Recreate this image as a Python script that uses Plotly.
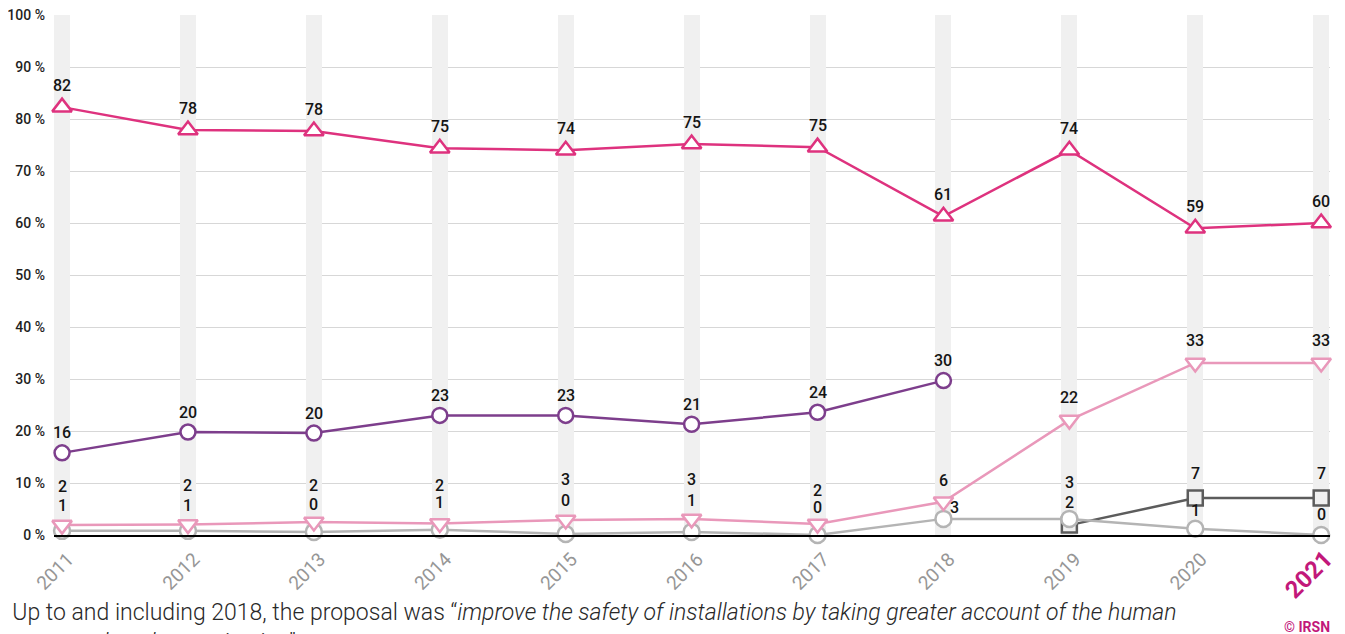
import plotly.graph_objects as go

# colors
magenta_color = 'rgba(222,50,126,1)'
purple_color = 'rgba(125,62,140,1)'
pink_color = 'rgba(233,152,186,1)'
grey_color = 'rgba(180,180,180,1)'
dark_color = 'rgba(92,92,92,1)'
band_color = 'rgba(240,240,240,1)'
grid_color = 'rgba(215,215,215,1)'
label_color = 'rgba(20,20,20,1)'
irsn_color = 'rgba(194,24,122,1)'
font_family = 'Roboto, Arial, sans-serif'

# data
years = [2011, 2012, 2013, 2014, 2015, 2016, 2017, 2018, 2019, 2020, 2021]
year_labels = ['2011', '2012', '2013', '2014', '2015', '2016', '2017', '2018', '2019', '2020',
               "<b><span style='color:#c2187a;font-size:24px'>2021</span></b>"]

magenta_values = [82.3, 77.9, 77.7, 74.4, 74.0, 75.2, 74.6, 61.3, 74.0, 59.0, 60.0]
magenta_labels = ['82', '78', '78', '75', '74', '75', '75', '61', '74', '59', '60']

purple_years = [2011, 2012, 2013, 2014, 2015, 2016, 2017, 2018]
purple_values = [15.8, 19.8, 19.6, 23.0, 23.0, 21.3, 23.6, 29.7]
purple_labels = ['16', '20', '20', '23', '23', '21', '24', '30']

pink_values = [1.9, 2.0, 2.5, 2.2, 2.9, 3.1, 2.1, 6.4, 22.1, 33.1, 33.1]
pink_labels = ['2', '2', '2', '2', '3', '3', '2', '6', '22', '33', '33']

grey_values = [0.8, 0.8, 0.6, 1.0, 0.2, 0.6, 0.0, 3.1, 3.1, 1.2, 0.0]
grey_labels = ['1', '1', '0', '1', '0', '1', '0', '3', '3', '1', '0']

dark_years = [2019, 2020, 2021]
dark_values = [1.9, 7.1, 7.1]
dark_labels = ['2', '7', '7']

y_ticks = [0, 10, 20, 30, 40, 50, 60, 70, 80, 90, 100]
y_tick_labels = ['0 %', '10 %', '20 %', '30 %', '40 %', '50 %', '60 %', '70 %', '80 %', '90 %', '100 %']

# label offsets (pixels above the marker), so the low labels stack
magenta_shift = [22] * 11
purple_shift = [20] * 8
pink_shift = [39, 39, 37, 38, 40, 39, 34, 21, 23, 22, 22]
grey_shift = [25, 25, 27, 27, 33, 31, 28, 11, 36, 18, 21]
grey_xshift = [0, 0, 0, 0, 0, 0, 0, 11, 0, 0, 0]
dark_shift = [23, 25, 25]

fig = go.Figure()

# grey vertical bands behind each year
fig.add_trace(go.Bar(
    x=years,
    y=[y_ticks[-1]] * len(years),
    width=0.127,
    marker=dict(color=band_color, line=dict(width=0)),
    hoverinfo='skip',
    showlegend=False,
))


def add_series(x, y, color, symbol, size, fill='white'):
    fig.add_trace(go.Scatter(
        x=x, y=y,
        mode='lines+markers',
        line=dict(color=color, width=2.5),
        marker=dict(symbol=symbol, size=size, color=fill, line=dict(color=color, width=2.5)),
        cliponaxis=False,
        showlegend=False,
    ))


add_series(dark_years, dark_values, dark_color, 'square', 15, 'rgba(240,240,240,1)')
add_series(years, grey_values, grey_color, 'circle', 16)
add_series(years, pink_values, pink_color, 'triangle-down', 17)
add_series(purple_years, purple_values, purple_color, 'circle', 15)
add_series(years, magenta_values, magenta_color, 'triangle-up', 17)


def add_labels(x, y, labels, shifts, xshifts=None):
    for i, (xv, yv, t) in enumerate(zip(x, y, labels)):
        fig.add_annotation(
            x=xv, y=yv, text=t, showarrow=False,
            xref='x', yref='y',
            yshift=shifts[i],
            xshift=xshifts[i] if xshifts else 0,
            font=dict(family=font_family, size=16, color=label_color, weight=500),
        )


add_labels(years, magenta_values, magenta_labels, magenta_shift)
add_labels(purple_years, purple_values, purple_labels, purple_shift)
add_labels(years, pink_values, pink_labels, pink_shift)
add_labels(years, grey_values, grey_labels, grey_shift, grey_xshift)
add_labels(dark_years, dark_values, dark_labels, dark_shift)

# footnote
fig.add_annotation(
    xref='paper', yref='paper', x=0, y=-0.12, xshift=-59,
    xanchor='left', yanchor='top', align='left', showarrow=False,
    text='* Up to and including 2018, the proposal was \u201c<i>improve the safety of installations by taking greater account of the human'
         '<br>factors and work organisation</i>\u201d',
    font=dict(family=font_family, size=23, color='rgba(40,40,40,1)', weight=300),
)
fig.add_annotation(
    xref='paper', yref='paper', x=1, y=-0.158, xshift=2,
    xanchor='right', yanchor='top', showarrow=False,
    text='<b>\u00a9 IRSN</b>',
    font=dict(family=font_family, size=14, color=irsn_color),
)

fig.update_xaxes(
    range=[2010.936, 2021.07],
    tickmode='array',
    tickvals=years,
    ticktext=year_labels,
    tickangle=-45,
    tickfont=dict(family=font_family, size=19, color='rgba(150,150,150,1)'),
    ticklabelstandoff=4,
    ticklabelshift=6,
    showgrid=False,
    zeroline=False,
    showline=True,
    linecolor='black',
    linewidth=1.5,
    ticks='',
    automargin=False,
)
fig.update_yaxes(
    range=[0, 100.02],
    tickmode='array',
    tickvals=y_ticks,
    ticktext=y_tick_labels,
    tickfont=dict(family=font_family, size=14, color='rgba(30,30,30,1)', weight=500),
    ticklabelstandoff=8,
    ticklabeloverflow='allow',
    gridcolor=grid_color,
    gridwidth=1,
    zeroline=False,
    showline=False,
    automargin=False,
)
# the page body adds an 8px offset, so margins are set 8px tighter
fig.update_layout(
    width=1345,
    height=634,
    margin=dict(l=46, r=23, t=7, b=107),
    paper_bgcolor='white',
    plot_bgcolor='white',
    bargap=0,
    showlegend=False,
)

fig.write_html("out.html")
